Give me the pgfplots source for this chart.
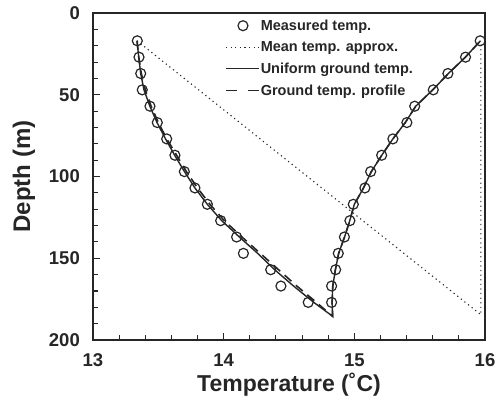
\documentclass[border=0pt]{standalone}
\usepackage{fontspec}
\setmainfont{Liberation Sans}
\usepackage{pgfplots}
\pgfplotsset{compat=1.18}
\definecolor{ink}{HTML}{262626}
\pgfplotsset{
  legline/.style={legend image code/.code={\draw[##1] (0pt,0pt) -- (33pt,0pt);}},
  legdash/.style={legend image code/.code={\draw[##1, dash pattern=on 11pt off 11pt] (0pt,0pt) -- (33pt,0pt);}},
  legmark/.style={legend image code/.code={\draw[mark repeat=2,mark phase=2,##1] plot coordinates {(0pt,0pt) (17pt,0pt) (34pt,0pt)};}},
}

\begin{document}
\begin{tikzpicture}
\begin{axis}[
  width=392pt, height=327pt, scale only axis,
  xmin=13, xmax=16, ymin=0, ymax=200, y dir=reverse,
  xtick={13,14,15,16}, ytick={0,50,...,200},
  minor x tick num=4, minor y tick num=4,
  tick align=inside, xtick pos=bottom, ytick pos=left,
  major tick length=7pt, minor tick length=5pt,
  axis line style={line width=1.6pt, color=ink},
  every tick/.style={line width=1.1pt, color=ink},
  ticklabel style={font=\fontsize{18.5}{20}\selectfont\bfseries, color=ink, inner sep=0pt},
  xticklabel style={anchor=center, yshift=-20pt},
  yticklabel style={anchor=east, xshift=-13pt},
  /pgf/number format/assume math mode=true,
  xlabel={Temperature (˚C)}, ylabel={Depth (m)},
  every axis x label/.style={at={(rel axis cs:0.5,0)}, yshift=-45pt, anchor=center,
    font=\fontsize{23}{26}\selectfont\bfseries, color=ink},
  every axis y label/.style={at={(rel axis cs:0,0.5)}, xshift=-69pt, rotate=90, anchor=center,
    font=\fontsize{24}{26}\selectfont\bfseries, color=ink},
  legend style={at={(rel axis cs:0.329,1)}, yshift=-2.5pt, anchor=north west, draw=none, fill=none,
    font=\fontsize{14.5}{16}\selectfont\bfseries, text=ink, row sep=5.8pt,
    nodes={inner xsep=1pt, inner ysep=2pt},
    /tikz/every odd column/.append style={column sep=0pt}},
  legend cell align=left,
]
% measured temperatures, down leg then up leg
\addplot[only marks, mark=o, mark size=5pt, color=ink, line width=1.2pt, legmark]
  coordinates {
  (13.339,17) (13.352,27) (13.365,37) (13.377,47) (13.436,57) (13.492,67)
  (13.564,77) (13.627,87) (13.699,97) (13.780,107) (13.875,117) (13.977,127)
  (14.099,137) (14.151,147) (14.360,157) (14.438,167) (14.647,177)
  (15.963,17) (15.851,27) (15.716,37) (15.604,47) (15.462,57) (15.402,67)
  (15.295,77) (15.209,87) (15.125,97) (15.081,107) (14.992,117) (14.966,127)
  (14.924,137) (14.877,147) (14.857,157) (14.826,167) (14.826,177)
  };
\addlegendentry{Measured temp.}

\addplot[color=ink, line width=1.1pt, dash pattern=on 1.2pt off 3.4pt, legline]
  coordinates {(13.337,17) (15.968,184.5) (15.968,17)};
\addlegendentry{Mean temp. approx.}

\addplot[color=ink, line width=1.4pt, legline]
  coordinates {
  (13.337,17) (13.35,27) (13.365,37) (13.39,47) (13.435,57) (13.49,67)
  (13.555,77) (13.625,87) (13.70,97) (13.78,107) (13.875,117) (13.985,127)
  (14.12,137) (14.26,147) (14.39,157) (14.535,167) (14.69,177) (14.834,185.5)
  (14.83,177) (14.835,167) (14.855,157) (14.88,147) (14.925,137) (14.965,127)
  (15.0,117) (15.07,107) (15.13,97) (15.21,87) (15.295,77) (15.39,67)
  (15.47,57) (15.60,47) (15.72,37) (15.85,27) (15.965,17)
  };
\addlegendentry{Uniform ground temp.}

\addplot[color=ink, line width=1.6pt, dash pattern=on 9pt off 6pt, legdash]
  coordinates {
  (13.337,17) (13.35,27) (13.37,37) (13.40,47) (13.445,57) (13.50,67)
  (13.565,77) (13.64,87) (13.715,97) (13.80,107) (13.895,117) (14.005,127)
  (14.14,137) (14.28,147) (14.42,157) (14.56,167) (14.71,177) (14.834,185.5)
  (14.83,177) (14.835,167) (14.855,157) (14.88,147) (14.925,137) (14.965,127)
  (15.0,117) (15.07,107) (15.13,97) (15.21,87) (15.295,77) (15.39,67)
  (15.47,57) (15.60,47) (15.72,37) (15.85,27) (15.965,17)
  };
\addlegendentry{Ground temp. profile}
\end{axis}
\pgfresetboundingbox
\path[use as bounding box] ([shift={(-93pt,-62pt)}]current axis.south west)
  rectangle ([shift={(11pt,13pt)}]current axis.north east);
\end{tikzpicture}
\end{document}
